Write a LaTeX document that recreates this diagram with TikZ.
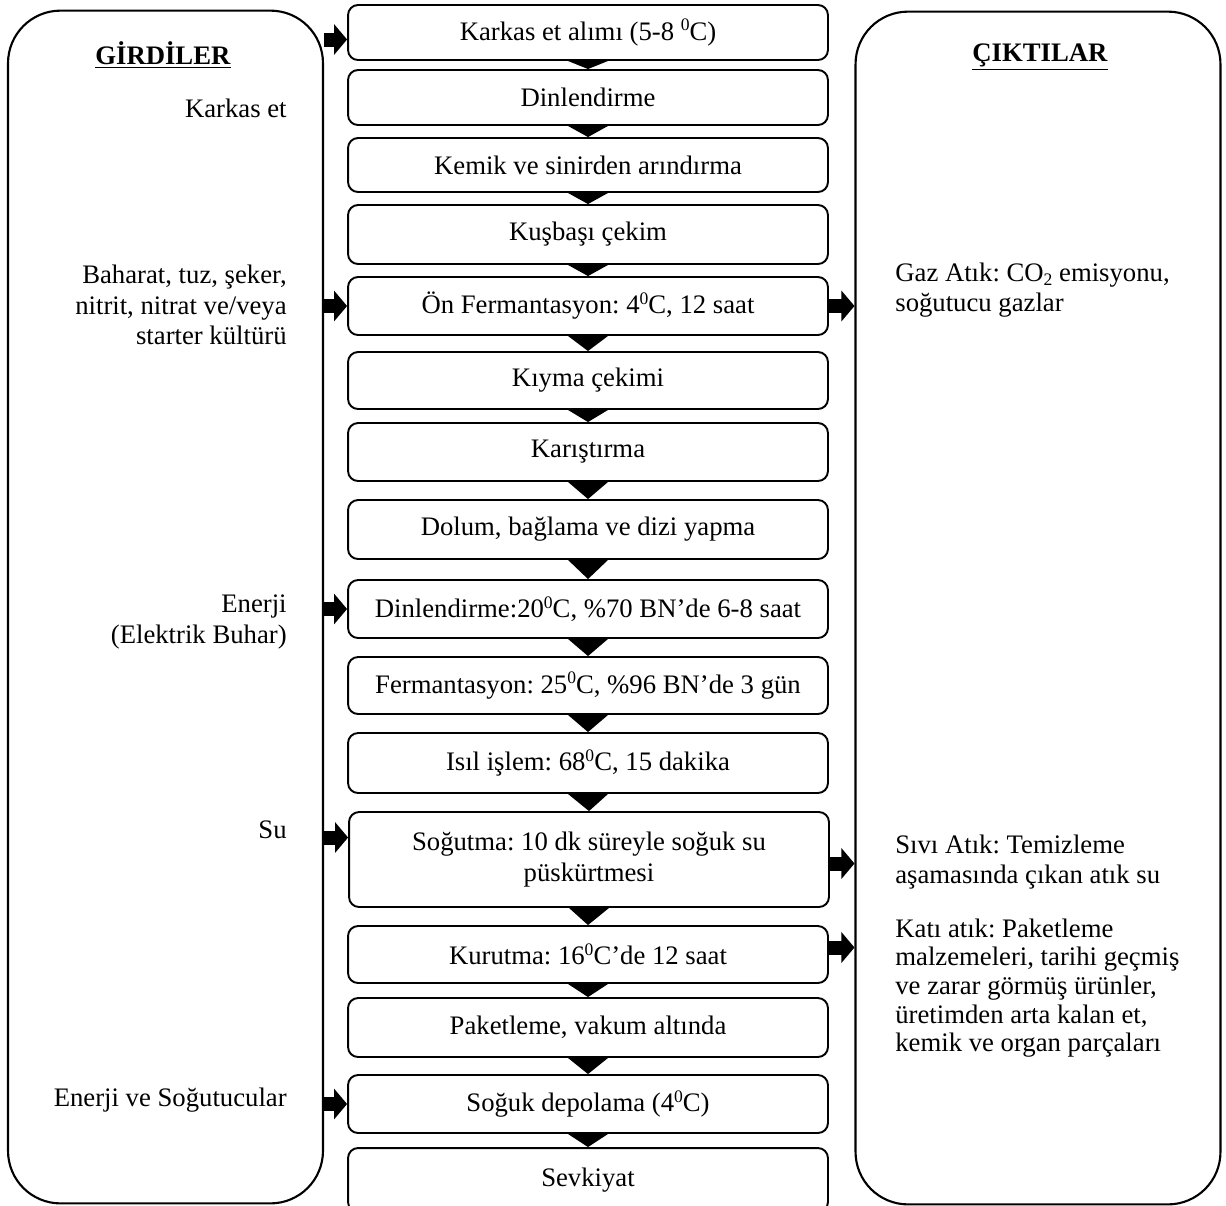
\documentclass[tikz,border=0pt]{standalone}
\usepackage{fontspec}
\setmainfont{Liberation Serif}
\usetikzlibrary{positioning,arrows.meta}
\newcommand{\supzero}{\raisebox{0.75ex}{\fontsize{10}{10}\selectfont 0}}
\newcommand{\subtwo}{\raisebox{-0.35ex}{\fontsize{10}{10}\selectfont 2}}

\begin{document}
\frenchspacing
\begin{tikzpicture}[
                x=0.02cm, y=-0.02cm,
                every node/.style={font=\fontsize{15.2}{17.5}\selectfont},
                process/.style={rectangle, draw, line width=1.1pt, fill=white, rounded corners=0.2cm, minimum width=9.6cm, text centered, inner sep=0pt},
                sidebox/.style={rectangle, draw, line width=1.2pt, rounded corners=1.05cm, minimum width=6.3cm, minimum height=23.86cm},
                sidetext/.style={align=right, anchor=east, inner sep=0pt},
                outtext/.style={align=left, anchor=west, inner sep=0pt},
                inout/.style={line width=0.28cm, -{Triangle[length=0.26cm,width=0.6cm]}}
            ]
                \useasboundingbox (0,0) rectangle (1226,1205);
                % left and right panels
                \node[sidebox] (girdi) at (165.5,607) {};
                \node[sidebox, minimum width=7.3cm] (cikti) at (1038,608) {};
                \node (girdititle) at (163,55) {\underline{\textbf{GİRDİLER}}};
                \node (ciktititle) at (1040,57) {\underline{\textbf{ÇIKTILAR}}};

                % process steps
                \node[process, minimum height=1.1cm] (alim) at (588,32.5) {Karkas et alımı (5-8 \supzero C)};
                \node[process, minimum height=1.1cm] (dinlen) at (588,97.5) {Dinlendirme};
                \node[process, minimum height=1.08cm] (kemik) at (588,165) {Kemik ve sinirden arındırma};
                \node[process, minimum height=1.18cm] (kusbasi) at (588,234.5) {Kuşbaşı çekim};
                \node[process, minimum height=1.16cm] (onferm) at (588,306) {Ön Fermantasyon: 4\supzero C, 12 saat};
                \node[process, minimum height=1.14cm] (kiyma) at (588,380.5) {Kıyma çekimi};
                \node[process, minimum height=1.16cm] (karistir) at (588,452) {Karıştırma};
                \node[process, minimum height=1.18cm] (dolum) at (588,529.5) {Dolum, bağlama ve dizi yapma};
                \node[process, minimum height=1.16cm] (dinlenb) at (588,609) {Dinlendirme:20\supzero C, \%70 BN’de 6-8 saat};
                \node[process, minimum height=1.14cm] (ferm) at (588,685.5) {Fermantasyon: 25\supzero C, \%96 BN’de 3 gün};
                \node[process, minimum height=1.2cm] (isil) at (588,763) {Isıl işlem: 68\supzero C, 15 dakika};
                \node[process, minimum height=1.9cm, align=center] (sogutma) at (589,859.5) {Soğutma: 10 dk süreyle soğuk su\\ püskürtmesi};
                \node[process, minimum height=1.14cm] (kurutma) at (588,954.5) {Kurutma: 16\supzero C’de 12 saat};
                \node[process, minimum height=1.18cm] (paket) at (588,1027.5) {Paketleme, vakum altında};
                \node[process, minimum height=1.16cm] (depo) at (588,1104) {Soğuk depolama (4\supzero C)};
                \node[process, minimum height=1.28cm] (sevk) at (588,1180) {Sevkiyat};

                % flow between steps
                \fill ([xshift=-0.4cm]alim.south) -- ([xshift=0.4cm]alim.south) -- (dinlen.north) -- cycle;
                \fill ([xshift=-0.4cm]dinlen.south) -- ([xshift=0.4cm]dinlen.south) -- (kemik.north) -- cycle;
                \fill ([xshift=-0.4cm]kemik.south) -- ([xshift=0.4cm]kemik.south) -- (kusbasi.north) -- cycle;
                \fill ([xshift=-0.4cm]kusbasi.south) -- ([xshift=0.4cm]kusbasi.south) -- (onferm.north) -- cycle;
                \fill ([xshift=-0.4cm]onferm.south) -- ([xshift=0.4cm]onferm.south) -- (kiyma.north) -- cycle;
                \fill ([xshift=-0.4cm]kiyma.south) -- ([xshift=0.4cm]kiyma.south) -- (karistir.north) -- cycle;
                \fill ([xshift=-0.4cm]karistir.south) -- ([xshift=0.4cm]karistir.south) -- (dolum.north) -- cycle;
                \fill ([xshift=-0.4cm]dolum.south) -- ([xshift=0.4cm]dolum.south) -- (dinlenb.north) -- cycle;
                \fill ([xshift=-0.4cm]dinlenb.south) -- ([xshift=0.4cm]dinlenb.south) -- (ferm.north) -- cycle;
                \fill ([xshift=-0.4cm]ferm.south) -- ([xshift=0.4cm]ferm.south) -- (isil.north) -- cycle;
                \fill ([xshift=-0.4cm]isil.south) -- ([xshift=0.4cm]isil.south) -- (sogutma.north) -- cycle;
                \fill ([xshift=-0.4cm]sogutma.south) -- ([xshift=0.4cm]sogutma.south) -- (kurutma.north) -- cycle;
                \fill ([xshift=-0.4cm]kurutma.south) -- ([xshift=0.4cm]kurutma.south) -- (paket.north) -- cycle;
                \fill ([xshift=-0.4cm]paket.south) -- ([xshift=0.4cm]paket.south) -- (depo.north) -- cycle;
                \fill ([xshift=-0.4cm]depo.south) -- ([xshift=0.4cm]depo.south) -- (sevk.north) -- cycle;

                % inputs
                \node[sidetext] (karkas) at (287,108) {Karkas et};
                \node[sidetext] (baharat) at (287,305) {Baharat, tuz, şeker,\\ nitrit, nitrat ve/veya\\ starter kültürü};
                \node[sidetext] (enerji) at (287,622) {Enerji\\ (Elektrik Buhar)};
                \node[sidetext] (su) at (287,830) {Su};
                \node[sidetext] (sogutucu) at (287,1100) {Enerji ve Soğutucular};

                % outputs
                \node[outtext] (gaz) at (895,290) {Gaz Atık: CO\subtwo{} emisyonu,\\ soğutucu gazlar};
                \node[outtext] (sivi) at (895,862) {Sıvı Atık: Temizleme\\ aşamasında çıkan atık su};
                \node[outtext, font=\fontsize{15.2}{16.3}\selectfont] (kati) at (895,988) {Katı atık: Paketleme\\ malzemeleri, tarihi geçmiş\\ ve zarar görmüş ürünler,\\ üretimden arta kalan et,\\ kemik ve organ parçaları};

                % block arrows
                \coordinate (in1) at ([yshift=-0.14cm]alim.west);
                \coordinate (in4) at ([yshift=0.44cm]sogutma.west);
                \coordinate (out2) at ([yshift=-0.08cm]sogutma.east);
                \coordinate (out3) at ([yshift=0.14cm]kurutma.east);
                \draw[inout] (girdi.east |- in1) -- (in1);
                \draw[inout] (girdi.east |- onferm.west) -- (onferm.west);
                \draw[inout] (girdi.east |- dinlenb.west) -- (dinlenb.west);
                \draw[inout] (girdi.east |- in4) -- (in4);
                \draw[inout] (girdi.east |- depo.west) -- (depo.west);
                \draw[inout] (onferm.east) -- (cikti.west |- onferm.east);
                \draw[inout] (out2) -- (cikti.west |- out2);
                \draw[inout] (out3) -- (cikti.west |- out3);
            \end{tikzpicture}
\end{document}
